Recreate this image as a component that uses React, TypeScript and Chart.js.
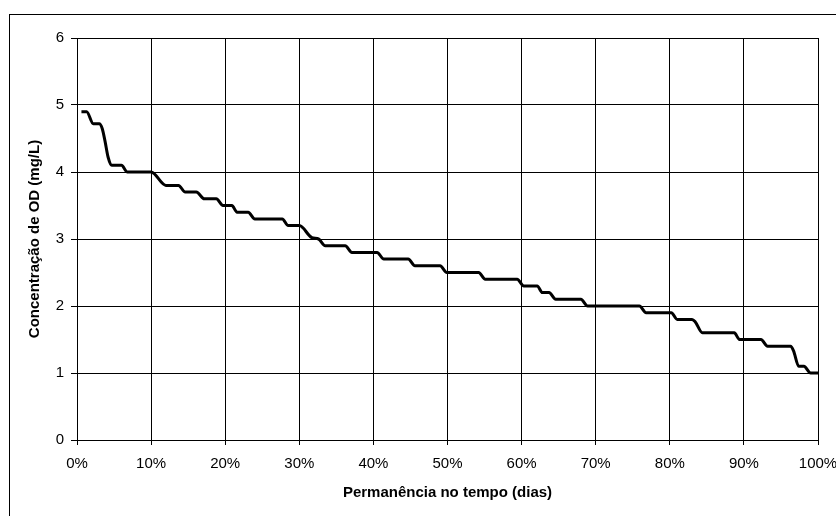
import React, { useEffect, useRef } from "react";
import { Chart, registerables } from "chart.js";

Chart.register(...registerables);

const permanencePct: number[] = [
  0.6, 1.3, 2.2, 3.0, 3.4, 3.8, 4.2, 4.7, 6.0, 6.8, 10.0, 12.0, 13.7, 14.6, 16.1, 17.2, 18.8,
  19.7, 20.9, 21.6, 23.1, 24.0, 27.7, 28.5, 30.0, 31.7, 32.6, 33.5, 36.2, 37.1, 40.5, 41.4,
  44.7, 45.6, 49.0, 49.9, 54.2, 55.1, 59.4, 60.3, 62.1, 62.8, 63.7, 64.6, 68.0, 68.9, 75.9,
  76.8, 80.2, 81.0, 83.0, 83.4, 84.4, 88.7, 89.4, 92.3, 93.2, 96.3, 96.7, 97.4, 98.1, 99.0, 100,
];
const odConcentration: number[] = [
  4.9, 4.9, 4.72, 4.72, 4.65, 4.45, 4.22, 4.1, 4.1, 4.0, 4.0, 3.8, 3.8, 3.7, 3.7, 3.6, 3.6,
  3.5, 3.5, 3.4, 3.4, 3.3, 3.3, 3.2, 3.2, 3.02, 3.0, 2.9, 2.9, 2.8, 2.8, 2.7,
  2.7, 2.6, 2.6, 2.5, 2.5, 2.4, 2.4, 2.3, 2.3, 2.2, 2.2, 2.1, 2.1, 2.0, 2.0,
  1.9, 1.9, 1.8, 1.8, 1.77, 1.6, 1.6, 1.5, 1.5, 1.4, 1.4, 1.33, 1.1, 1.1, 1.0, 1.0,
];
const xTitle = "Permanência no tempo (dias)";
const yTitle = "Concentração de OD (mg/L)";

export default function App() {
  const ref = useRef<HTMLCanvasElement | null>(null);
  useEffect(() => {
    if (!ref.current) return;
    const font = "'Liberation Sans', Arial, sans-serif";
    const chart = new Chart(ref.current, {
      type: "line",
      data: {
        datasets: [
          {
            data: permanencePct.map((x, i) => ({ x, y: odConcentration[i] })),
            borderColor: "#000",
            borderWidth: 3,
            pointRadius: 0,
            cubicInterpolationMode: "monotone",
            fill: false,
          },
        ],
      },
      options: {
        animation: false,
        responsive: false,
        events: [],
        layout: { padding: { left: 26, top: 38, right: 18, bottom: 14 } },
        plugins: { legend: { display: false }, tooltip: { enabled: false } },
        scales: {
          x: {
            type: "linear",
            min: 0,
            max: 100,
            afterFit: (s: any) => {
              s.height = 62;
              s.paddingLeft = 0;
              s.paddingRight = 0;
            },
            ticks: {
              stepSize: 10,
              color: "#000",
              padding: 10,
              maxRotation: 0,
              font: { family: font, size: 15 },
              callback: (v: any) => `${v}%`,
            },
            grid: { color: "#000", lineWidth: 1, tickLength: 5, drawTicks: true },
            border: { color: "#000", width: 1 },
            title: {
              display: true,
              text: xTitle,
              color: "#000",
              padding: 0,
              font: { family: font, size: 15, weight: "bold" },
            },
          },
          y: {
            min: 0,
            max: 6,
            afterFit: (s: any) => {
              s.width = 51;
              s.paddingTop = 0;
              s.paddingBottom = 0;
            },
            ticks: {
              stepSize: 1,
              color: "#000",
              padding: 7,
              font: { family: font, size: 15 },
            },
            grid: { color: "#000", lineWidth: 1, tickLength: 6, drawTicks: true },
            border: { color: "#000", width: 1 },
            title: {
              display: true,
              text: yTitle,
              color: "#000",
              padding: 0,
              font: { family: font, size: 15, weight: "bold" },
            },
          },
        },
      },
    });
    return () => chart.destroy();
  }, []);
  return (
    <div style={{ position: "fixed", left: 0, top: 0, width: 836, height: 516, background: "#fff", overflow: "hidden" }}>
      <div
        style={{
          position: "absolute",
          left: 9,
          top: 14,
          width: 840,
          height: 520,
          border: "1px solid #000",
          boxSizing: "border-box",
        }}
      />
      <canvas ref={ref} width={836} height={516} style={{ position: "absolute", left: 0, top: 0, width: 836, height: 516 }} />
    </div>
  );
}
